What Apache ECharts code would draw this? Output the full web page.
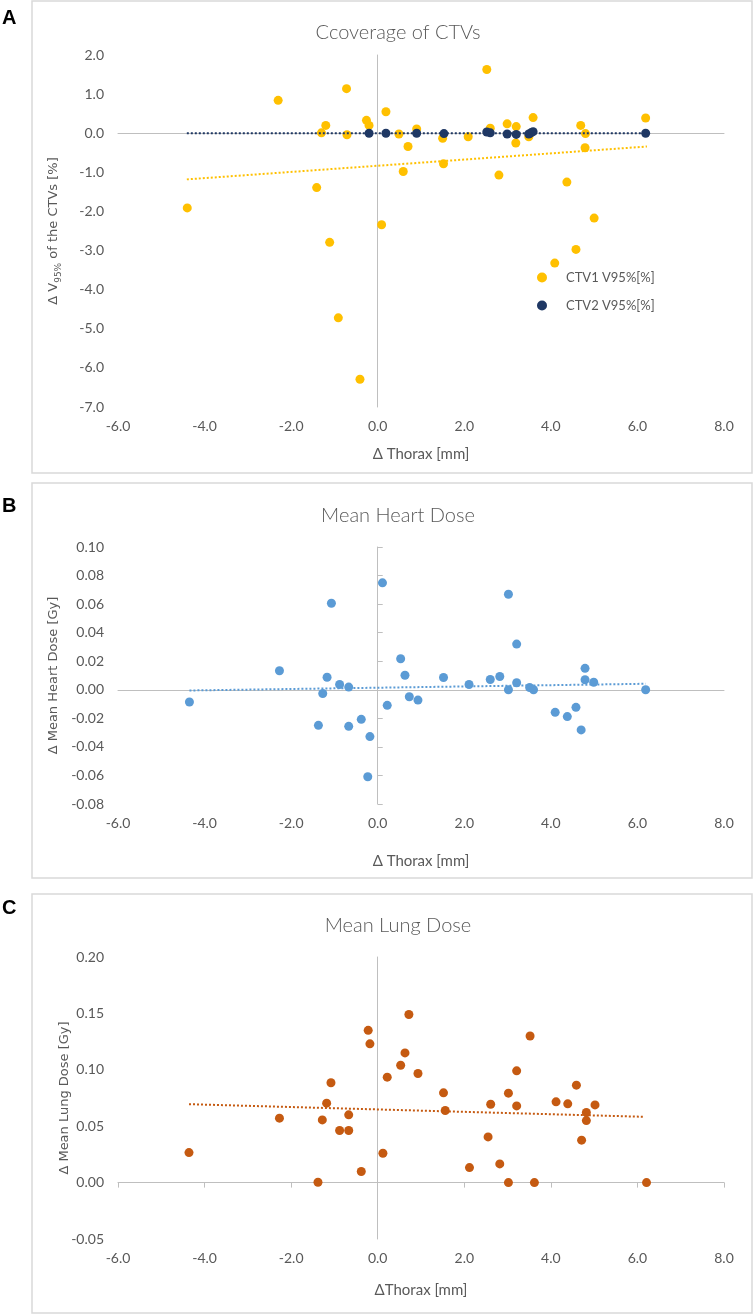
<!DOCTYPE html>
<html>
<head>
<meta charset="utf-8">
<script src="https://cdn.jsdelivr.net/npm/echarts@6/dist/echarts.min.js"></script>
<style>
  html, body { margin: 0; padding: 0; background: #fff; }
  #chart { width: 755px; height: 1315px; }
</style>
</head>
<body>
<div id="chart"></div>
<script>
// Panel A - CTV coverage
var ctv1X = [-4.40, -2.30, -1.41, -1.30, -1.20, -1.11, -0.91, -0.72, -0.71, -0.41, -0.26, -0.20, 0.09, 0.19, 0.49, 0.59, 0.70, 0.90, 1.50, 1.52, 2.09, 2.52, 2.60, 2.80, 2.99, 3.19, 3.20, 3.49, 3.59, 4.09, 4.37, 4.58, 4.69, 4.79, 4.80, 5.00, 6.19];
var ctv1Y = [-1.91, 0.84, -1.39, 0.01, 0.20, -2.79, -4.72, 1.14, -0.04, -6.29, 0.33, 0.20, -2.34, 0.55, -0.02, -0.98, -0.34, 0.11, -0.13, -0.78, -0.09, 1.63, 0.13, -1.07, 0.24, -0.25, 0.17, -0.09, 0.40, -3.32, -1.25, -2.97, 0.20, -0.37, -0.01, -2.17, 0.39];
var ctv2X = [-0.20, 0.19, 0.90, 1.53, 2.52, 2.60, 2.99, 3.20, 3.49, 3.54, 3.59, 6.19];
var ctv2Y = [0.00, 0.00, 0.00, -0.01, 0.03, 0.01, -0.02, -0.03, -0.02, 0.01, 0.04, 0.00];
var ctv1TrendX = [-4.41, 6.22];
var ctv1TrendY = [-1.18, -0.34];
var ctv2TrendX = [-4.41, 6.22];
var ctv2TrendY = [0.00, 0.00];

// Panel B - mean heart dose
var heartX = [-4.35, -2.27, -1.37, -1.27, -1.17, -1.07, -0.88, -0.67, -0.67, -0.38, -0.23, -0.18, 0.11, 0.22, 0.53, 0.63, 0.73, 0.93, 1.52, 2.11, 2.60, 2.82, 3.02, 3.02, 3.21, 3.21, 3.51, 3.60, 4.10, 4.38, 4.58, 4.70, 4.79, 4.79, 4.99, 6.19];
var heartY = [-0.0086, 0.0133, -0.0249, -0.0026, 0.0088, 0.0606, 0.0037, 0.0019, -0.0256, -0.0207, -0.0609, -0.0328, 0.0749, -0.0109, 0.0217, 0.0102, -0.0049, -0.0072, 0.0086, 0.0037, 0.0072, 0.0093, 0.0000, 0.0669, 0.0049, 0.0320, 0.0016, 0.0000, -0.0158, -0.0188, -0.0123, -0.0281, 0.0150, 0.0070, 0.0053, 0.0000];
var heartTrendX = [-4.35, 6.19];
var heartTrendY = [-0.0005, 0.0042];

// Panel C - mean lung dose
var lungX = [-4.36, -2.27, -1.38, -1.28, -1.18, -1.08, -0.88, -0.67, -0.67, -0.38, -0.22, -0.18, 0.12, 0.22, 0.53, 0.63, 0.72, 0.93, 1.52, 1.56, 2.12, 2.55, 2.61, 2.82, 3.02, 3.02, 3.21, 3.21, 3.52, 3.62, 4.12, 4.39, 4.59, 4.71, 4.82, 4.82, 5.02, 6.21];
var lungY = [0.0266, 0.0571, 0.0003, 0.0556, 0.0704, 0.0885, 0.0462, 0.0462, 0.0601, 0.0098, 0.1350, 0.1230, 0.0260, 0.0935, 0.1040, 0.1150, 0.1490, 0.0967, 0.0796, 0.0639, 0.0133, 0.0405, 0.0695, 0.0166, 0.0793, 0.0000, 0.0680, 0.0991, 0.1300, 0.0000, 0.0716, 0.0698, 0.0864, 0.0376, 0.0621, 0.0550, 0.0689, 0.0000];
var lungTrendX = [-4.36, 6.17];
var lungTrendY = [0.0695, 0.0583];

var xTicks = { min: -6, max: 8, interval: 2 };

function pairs(xs, ys) {
  return xs.map(function (x, i) { return [x, ys[i]]; });
}

var chart = echarts.init(document.getElementById('chart'));

var tickFont = { fontFamily: 'Lato', fontWeight: 400, fontSize: 14, color: '#595959' };
var axisGray = '#BFBFBF';

// axis that only shows labels (bottom / left edge)
function labelX(grid, name, gap) {
  return {
    type: 'value', gridIndex: grid, min: xTicks.min, max: xTicks.max, interval: xTicks.interval,
    position: 'bottom',
    axisLine: { show: false, onZero: false }, axisTick: { show: false }, splitLine: { show: false },
    axisLabel: Object.assign({ margin: 12, formatter: function (v) { return v.toFixed(1); } }, tickFont),
    name: name, nameLocation: 'middle', nameGap: gap, nameMoveOverlap: false,
    nameTextStyle: { fontFamily: 'Lato', fontWeight: 400, fontSize: 15, color: '#595959' }
  };
}
function labelY(grid, min, max, interval, digits, name, gap, rich) {
  return {
    type: 'value', gridIndex: grid, min: min, max: max, interval: interval,
    position: 'left',
    axisLine: { show: false, onZero: false }, axisTick: { show: false }, splitLine: { show: false },
    axisLabel: Object.assign({ margin: 14, formatter: function (v) { return v.toFixed(digits); } }, tickFont),
    name: name, nameLocation: 'middle', nameGap: gap, nameRotate: 90, nameMoveOverlap: false,
    nameTextStyle: { fontFamily: 'DejaVu Sans', fontSize: 13, color: '#595959', rich: rich }
  };
}
// axis drawn through zero of the other axis (line and optional ticks only)
function zeroX(grid, ticks) {
  return {
    type: 'value', gridIndex: grid, min: xTicks.min, max: xTicks.max, interval: xTicks.interval,
    position: 'bottom',
    axisLine: { show: true, onZero: true, lineStyle: { color: axisGray, width: 1 } },
    axisTick: { show: ticks, length: 5, lineStyle: { color: axisGray } },
    axisLabel: { show: false }, splitLine: { show: false }
  };
}
function zeroY(grid, min, max, interval, ticks) {
  return {
    type: 'value', gridIndex: grid, min: min, max: max, interval: interval,
    position: 'left',
    axisLine: { show: true, onZero: true, lineStyle: { color: axisGray, width: 1 } },
    axisTick: { show: ticks, inside: true, length: 5, lineStyle: { color: axisGray } },
    axisLabel: { show: false }, splitLine: { show: false }
  };
}

function dots(name, xs, ys, color, xi, yi, z) {
  return {
    name: name, type: 'scatter', xAxisIndex: xi, yAxisIndex: yi,
    symbol: 'circle', symbolSize: 9, z: z,
    itemStyle: { color: color, opacity: 1 },
    data: pairs(xs, ys)
  };
}
function trend(xs, ys, color, xi, yi) {
  return {
    type: 'line', xAxisIndex: xi, yAxisIndex: yi, symbol: 'none', silent: true, z: 5,
    lineStyle: { color: color, width: 2, type: [2, 2] },
    data: pairs(xs, ys)
  };
}

var titleStyle = { fontFamily: 'Lato', fontWeight: 300, fontSize: 20, color: '#595959' };

var option = {
  backgroundColor: '#ffffff',
  animation: false,
  title: [
    { text: 'Ccoverage of CTVs', left: 393, top: 18, textAlign: 'center', textStyle: titleStyle },
    { text: 'Mean Heart Dose', left: 393, top: 501, textAlign: 'center', textStyle: titleStyle },
    { text: 'Mean Lung Dose', left: 393, top: 911, textAlign: 'center', textStyle: titleStyle }
  ],
  legend: {
    data: ['CTV1 V95%[%]', 'CTV2 V95%[%]'],
    orient: 'vertical', left: 532, top: 266,
    itemWidth: 10, itemHeight: 10, itemGap: 15, icon: 'circle',
    textStyle: { fontFamily: 'Lato', fontWeight: 400, fontSize: 13, color: '#595959', padding: [0, 0, 0, 14] }
  },
  grid: [
    { left: 118, right: 31, top: 55, height: 352, outerBoundsMode: 'none', containLabel: false },
    { left: 118, right: 31, top: 547, height: 257, outerBoundsMode: 'none', containLabel: false },
    { left: 118, right: 31, top: 957, height: 282, outerBoundsMode: 'none', containLabel: false }
  ],
  xAxis: [
    labelX(0, 'Δ Thorax [mm]', 40),
    zeroX(0, false),
    labelX(1, 'Δ Thorax [mm]', 50),
    zeroX(1, false),
    labelX(2, 'ΔThorax [mm]', 44),
    zeroX(2, true)
  ],
  yAxis: [
    labelY(0, -7, 2, 1, 1, '{a|Δ V}{s|95%}{a| of the CTVs [%]}', 55, {
      a: { fontFamily: 'DejaVu Sans', fontSize: 13, color: '#595959', lineHeight: 18, verticalAlign: 'middle' },
      s: { fontFamily: 'DejaVu Sans', fontSize: 9, color: '#595959', lineHeight: 18, verticalAlign: 'bottom' }
    }),
    zeroY(0, -7, 2, 1, false),
    labelY(1, -0.08, 0.10, 0.02, 2, 'Δ Mean Heart Dose [Gy]', 58),
    zeroY(1, -0.08, 0.10, 0.02, true),
    labelY(2, -0.05, 0.20, 0.05, 2, 'Δ Mean Lung Dose [Gy]', 47),
    zeroY(2, -0.05, 0.20, 0.05, false)
  ],
  graphic: [
    { type: 'rect', shape: { x: 32, y: 1, width: 720, height: 472 }, style: { fill: 'none', stroke: '#D9D9D9', lineWidth: 1.5 }, silent: true },
    { type: 'rect', shape: { x: 32, y: 483, width: 720, height: 395 }, style: { fill: 'none', stroke: '#D9D9D9', lineWidth: 1.5 }, silent: true },
    { type: 'rect', shape: { x: 32, y: 894, width: 720, height: 419 }, style: { fill: 'none', stroke: '#D9D9D9', lineWidth: 1.5 }, silent: true },
    { type: 'text', left: 2, top: 8, style: { text: 'A', font: 'bold 20px "Liberation Sans", Arial', fill: '#000' } },
    { type: 'text', left: 2, top: 496, style: { text: 'B', font: 'bold 20px "Liberation Sans", Arial', fill: '#000' } },
    { type: 'text', left: 2, top: 898, style: { text: 'C', font: 'bold 20px "Liberation Sans", Arial', fill: '#000' } }
  ],
  series: [
    dots('CTV1 V95%[%]', ctv1X, ctv1Y, '#FFC000', 0, 0, 3),
    dots('CTV2 V95%[%]', ctv2X, ctv2Y, '#1F3864', 0, 0, 4),
    trend(ctv1TrendX, ctv1TrendY, '#FFC000', 0, 0),
    trend(ctv2TrendX, ctv2TrendY, '#1F3864', 0, 0),
    dots('Mean Heart Dose', heartX, heartY, '#5B9BD5', 2, 2, 3),
    trend(heartTrendX, heartTrendY, '#5B9BD5', 2, 2),
    dots('Mean Lung Dose', lungX, lungY, '#C55A11', 4, 4, 3),
    trend(lungTrendX, lungTrendY, '#C55A11', 4, 4)
  ]
};

chart.setOption(option);

window.addEventListener('resize', function () {
  chart.resize();
});
</script>
</body>
</html>
